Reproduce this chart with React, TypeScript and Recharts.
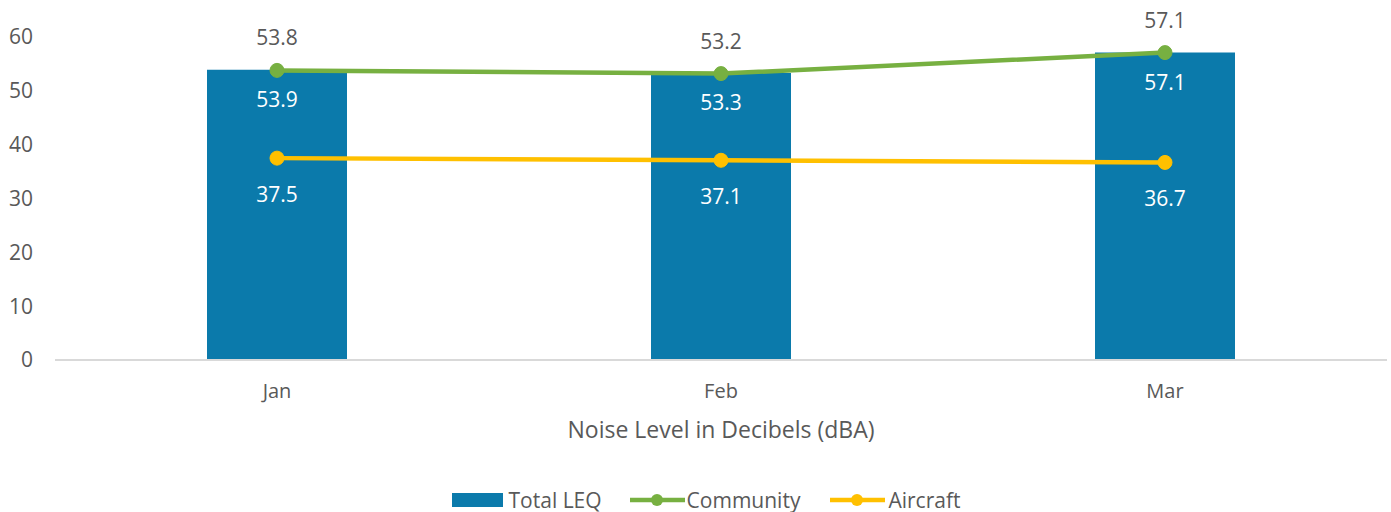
import React from "react";
import { ComposedChart, Bar, Line, XAxis, YAxis, Legend, LabelList, Label } from "recharts";

const months = ["Jan", "Feb", "Mar"];
const totalLeq = [53.9, 53.3, 57.1];
const community = [53.8, 53.2, 57.1];
const aircraft = [37.5, 37.1, 36.7];
const yTicks = [0, 10, 20, 30, 40, 50, 60];

const data = months.map((m, i) => ({
  month: m,
  total: totalLeq[i],
  community: community[i],
  aircraft: aircraft[i],
}));

const FONT = "'Open Sans', 'Noto Sans', sans-serif";
const BAR = "#0B7AAB";
const GREEN = "#77B041";
const YELLOW = "#FFC000";
const TEXT = "#595959";

const LegendContent = () => {
  const lineIcon = (c: string) => (
    <svg width={55} height={16} style={{ display: "block" }}>
      <line x1={0} y1={8} x2={55} y2={8} stroke={c} strokeWidth={4.5} />
      <circle cx={27} cy={8} r={6} fill={c} />
    </svg>
  );
  return (
    <div
      style={{
        display: "flex",
        justifyContent: "center",
        alignItems: "center",
        fontFamily: FONT,
        height: 28,
        paddingLeft: 25,
        fontSize: 21,
        color: TEXT,
      }}
    >
      <svg width={51} height={14} style={{ display: "block" }}>
        <rect x={0} y={0} width={51} height={14} fill={BAR} />
      </svg>
      <span style={{ marginLeft: 6, marginRight: 28 }}>Total LEQ</span>
      {lineIcon(GREEN)}
      <span style={{ marginLeft: 2, marginRight: 30 }}>Community</span>
      {lineIcon(YELLOW)}
      <span style={{ marginLeft: 3 }}>Aircraft</span>
    </div>
  );
};

export default function App() {
  return (
    <div style={{ position: "absolute", left: 0, top: 0, width: 1391, height: 512, background: "#fff", fontFamily: FONT }}>
      <ComposedChart
        width={1391}
        height={512}
        data={data}
        margin={{ top: 37, right: 4, left: 0, bottom: 0 }}
        barCategoryGap="34%"
      >
        <XAxis
          dataKey="month"
          height={124}
          axisLine={{ stroke: "#D9D9D9", strokeWidth: 2 }}
          tickLine={false}
          tick={{ fill: TEXT, fontSize: 20, fontFamily: FONT }}
          tickMargin={18}
        >
          <Label
            value="Noise Level in Decibels (dBA)"
            position="insideTop"
            offset={62}
            style={{ fill: TEXT, fontSize: 23, fontFamily: FONT }}
          />
        </XAxis>
        <YAxis
          width={55}
          domain={[0, 60]}
          ticks={yTicks}
          axisLine={false}
          tickLine={false}
          tickMargin={16}
          tick={{ fill: TEXT, fontSize: 21, fontFamily: FONT }}
        />
        <Legend verticalAlign="bottom" content={<LegendContent />} wrapperStyle={{ height: 28, bottom: -2 }} />
        <Bar dataKey="total" name="Total LEQ" fill={BAR} barSize={140} isAnimationActive={false}>
          <LabelList dataKey="total" position="insideTop" offset={22} fill="#FFFFFF" fontSize={21} fontFamily={FONT} />
        </Bar>
        <Line
          dataKey="community"
          name="Community"
          stroke={GREEN}
          strokeWidth={4.5}
          dot={{ r: 7, fill: GREEN, stroke: GREEN, strokeWidth: 1 }}
          isAnimationActive={false}
        >
          <LabelList dataKey="community" position="top" offset={25} fill={TEXT} fontSize={21} fontFamily={FONT} />
        </Line>
        <Line
          dataKey="aircraft"
          name="Aircraft"
          stroke={YELLOW}
          strokeWidth={4.5}
          dot={{ r: 7, fill: YELLOW, stroke: YELLOW, strokeWidth: 1 }}
          isAnimationActive={false}
        >
          <LabelList dataKey="aircraft" position="bottom" offset={29} fill="#FFFFFF" fontSize={21} fontFamily={FONT} />
        </Line>
      </ComposedChart>
    </div>
  );
}
